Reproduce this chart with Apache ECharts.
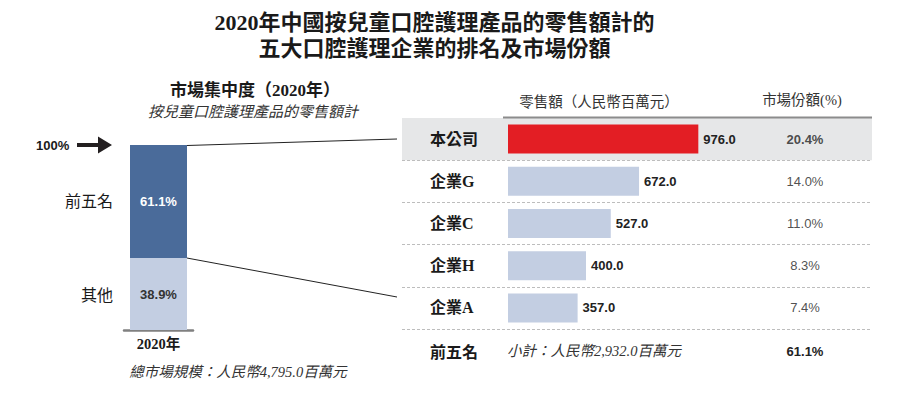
<!DOCTYPE html>
<html><head><meta charset="utf-8">
<script src="https://cdn.jsdelivr.net/npm/echarts@6/dist/echarts.min.js"></script>
<style>html,body{margin:0;padding:0;background:#fff}#c{width:917px;height:394px}</style>
</head><body><div id="c"></div>
<script>
const titleLines = ['2020年中國按兒童口腔護理產品的零售額計的', '五大口腔護理企業的排名及市場份額'];
const leftTitle = '市場集中度（2020年）';
const leftSubtitle = '按兒童口腔護理產品的零售額計';
const leftYear = ['2020年'];
const segNames = ['前五名', '其他'];
const segShares = [61.1, 38.9];
const totalNote = '總市場規模：人民幣4,795.0百萬元';
const companies = ['本公司', '企業G', '企業C', '企業H', '企業A'];
const retailSales = [976.0, 672.0, 527.0, 400.0, 357.0];
const marketShares = [20.4, 14.0, 11.0, 8.3, 7.4];
const salesHeader = '零售額（人民幣百萬元）';
const shareHeader = '市場份額(%)';
const top5Label = '前五名';
const subtotalNote = '小計：人民幣2,932.0百萬元';
const top5Share = 61.1;
const topMarker = '100%';

const CJK = '"Noto Sans CJK TC"';
const SERIF = '"Liberation Serif", ' + CJK;
const SANS = '"Liberation Sans", ' + CJK;
const DARK = '#1a1a1a';

const chart = echarts.init(document.getElementById('c'), null, {renderer: 'svg'});

const rowTop = 118, rowH = 211;

chart.setOption({
  animation: false,
  backgroundColor: '#fff',
  grid: [
    {left: 124, top: 145, width: 69, height: 185},
    {left: 402, top: rowTop, width: 470, height: rowH},
    {left: 508, top: rowTop, width: 195, height: rowH},
    {left: 775, top: rowTop, width: 60, height: rowH}
  ],
  xAxis: [
    {gridIndex: 0, type: 'category', data: leftYear,
     axisLine: {lineStyle: {color: '#808080', width: 2.5}},
     axisTick: {show: false},
     axisLabel: {margin: 7, fontSize: 14.5, fontWeight: 'bold', color: DARK, fontFamily: SERIF}},
    {gridIndex: 1, type: 'value', show: false, min: 0, max: 1},
    {gridIndex: 2, type: 'value', show: false, min: 0, max: 1000},
    {gridIndex: 3, type: 'value', show: false, min: -1, max: 1}
  ],
  yAxis: [
    {gridIndex: 0, type: 'value', min: 0, max: 100, show: false},
    {gridIndex: 1, type: 'category', data: companies, inverse: true,
     axisLine: {show: false}, axisTick: {show: false}, axisLabel: {show: false},
     splitLine: {show: true, showMinLine: false, lineStyle: {color: '#bdbdbd', type: [3, 2], width: 1}},
     splitArea: {show: true, areaStyle: {color: ['#e6e7e8', 'rgba(0,0,0,0)', 'rgba(0,0,0,0)', 'rgba(0,0,0,0)', 'rgba(0,0,0,0)']}}},
    {gridIndex: 2, type: 'category', data: companies, inverse: true,
     axisLine: {show: false}, axisTick: {show: false}, splitLine: {show: false},
     axisLabel: {align: 'left', margin: 78, fontSize: 16, fontWeight: 'bold', color: DARK, fontFamily: SERIF}},
    {gridIndex: 3, type: 'category', data: companies, inverse: true, show: false}
  ],
  series: [
    {type: 'bar', name: segNames[1], xAxisIndex: 0, yAxisIndex: 0, stack: 'm', barWidth: 57,
     data: [segShares[1]], itemStyle: {color: '#c3cee2'},
     label: {show: true, position: 'inside', formatter: p => p.value.toFixed(1) + '%',
             fontSize: 13, fontWeight: 'bold', color: '#333', fontFamily: SANS}},
    {type: 'bar', name: segNames[0], xAxisIndex: 0, yAxisIndex: 0, stack: 'm', barWidth: 57,
     data: [segShares[0]], itemStyle: {color: '#4a6b9a'},
     label: {show: true, position: 'inside', formatter: p => p.value.toFixed(1) + '%',
             fontSize: 13, fontWeight: 'bold', color: '#fff', fontFamily: SANS}},
    {type: 'bar', xAxisIndex: 2, yAxisIndex: 2, barWidth: 29,
     data: retailSales.map((v, i) => ({value: v, itemStyle: {color: i === 0 ? '#e31e24' : '#c3cee2'}})),
     label: {show: true, position: 'right', distance: 5, formatter: p => p.value.toFixed(1),
             fontSize: 13, fontWeight: 'bold', color: '#222', fontFamily: SANS}},
    {type: 'scatter', xAxisIndex: 3, yAxisIndex: 3, symbolSize: 1, itemStyle: {color: 'rgba(255,255,255,0)'},
     data: marketShares.map((v, i) => ({value: [0, companies[i]],
       label: {fontWeight: i === 0 ? 'bold' : 'normal'}})),
     label: {show: true, position: 'inside', formatter: p => marketShares[p.dataIndex].toFixed(1) + '%',
             fontSize: 13, color: '#222', fontFamily: SANS}}
  ]
});

// positions derived from the axes
const topRight = chart.convertToPixel({xAxisIndex: 0, yAxisIndex: 0}, [leftYear[0], 100]);
const splitPt = chart.convertToPixel({xAxisIndex: 0, yAxisIndex: 0}, [leftYear[0], segShares[1]]);
const topMid = chart.convertToPixel({xAxisIndex: 0, yAxisIndex: 0}, [leftYear[0], segShares[1] + segShares[0] / 2]);
const botMid = chart.convertToPixel({xAxisIndex: 0, yAxisIndex: 0}, [leftYear[0], segShares[1] / 2]);
const barRight = topRight[0] + 28.5;

const T = (x, y, text, font, align, extra) => ({
  type: 'text', x: x, y: y, silent: true,
  style: Object.assign({text: text, font: font, fill: DARK, align: align || 'center', verticalAlign: 'middle'}, extra || {})
});

chart.setOption({
  graphic: [
    T(434.5, 22, titleLines[0], 'bold 22px ' + SERIF),
    T(434.5, 48, titleLines[1], 'bold 22px ' + SERIF),
    T(255, 90, leftTitle, 'bold 17px ' + SERIF),
    T(253, 112, leftSubtitle, 'italic 15px ' + SERIF, 'center', {fill: '#333'}),
    T(36, topRight[1], topMarker, 'bold 13px ' + SANS, 'left'),
    {type: 'polygon', silent: true, shape: {points: [[77, 143], [98, 143], [98, 136.5], [112, 145], [98, 153.5], [98, 147], [77, 147]]},
     style: {fill: '#231f20'}},
    T(113, topMid[1] - 2, segNames[0], '16px ' + CJK, 'right'),
    T(113, botMid[1], segNames[1], '16px ' + CJK, 'right'),
    T(238, 372, totalNote, 'italic 14.5px ' + SERIF, 'center', {fill: '#333'}),
    T(599, 100, salesHeader, '14.5px ' + CJK, 'center', {fill: '#333'}),
    T(802, 100, shareHeader, '14.5px ' + SERIF, 'center', {fill: '#333'}),
    {type: 'line', silent: true, shape: {x1: 503, y1: 117.5, x2: 872, y2: 117.5}, style: {stroke: '#8c8c8c', lineWidth: 2}},
    T(430, 351, top5Label, 'bold 16px ' + CJK, 'left'),
    T(507, 351, subtotalNote, 'italic 14.5px ' + SERIF, 'left', {fill: '#333'}),
    T(805, 351, top5Share.toFixed(1) + '%', 'bold 13px ' + SANS, 'center', {fill: '#222'}),
    {type: 'line', silent: true, shape: {x1: barRight, y1: topRight[1] + 0.5, x2: 397, y2: 139}, style: {stroke: '#222', lineWidth: 1}},
    {type: 'line', silent: true, shape: {x1: barRight, y1: splitPt[1], x2: 397, y2: 297}, style: {stroke: '#222', lineWidth: 1}}
  ]
});
</script>
</body></html>
